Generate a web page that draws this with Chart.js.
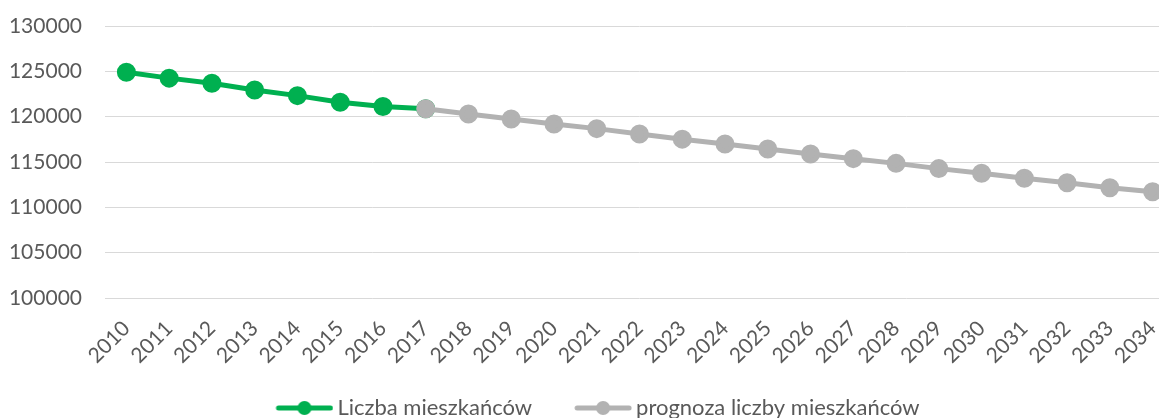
<!DOCTYPE html>
<html>
<head>
<meta charset="utf-8">
<script src="https://cdn.jsdelivr.net/npm/chart.js@4/dist/chart.umd.min.js"></script>
<style>
  html, body { margin: 0; padding: 0; background: #fff; }
  #wrap { width: 1159px; height: 418px; overflow: hidden; position: relative; }
  canvas { position: absolute; left: 0; top: 0; }
</style>
</head>
<body>
<div id="wrap"><canvas id="chart" width="1174" height="429"></canvas></div>
<script>
// dane
const lata = ['2010','2011','2012','2013','2014','2015','2016','2017','2018','2019','2020','2021',
              '2022','2023','2024','2025','2026','2027','2028','2029','2030','2031','2032','2033','2034'];
const liczbaMieszkancow = [124900, 124250, 123680, 122950, 122320, 121600, 121120, 120880];
const prognoza = [120880, 120290, 119740, 119190, 118680, 118090, 117520, 116990, 116440,
                  115890, 115370, 114850, 114270, 113760, 113210, 112720, 112170, 111720];
const osY = { min: 100000, max: 130000, krok: 5000 };

const zielony = '#00B050';
const szary = '#B2B2B2';
const tekst = '#595959';

// wypelnienie brakujacych lat null-ami
const seria1 = lata.map((r, i) => i < liczbaMieszkancow.length ? liczbaMieszkancow[i] : null);
const startPrognozy = lata.length - prognoza.length;
const seria2 = lata.map((r, i) => i >= startPrognozy ? prognoza[i - startPrognozy] : null);

// znacznik legendy: linia z kropka
function znacznik(kolor) {
    const c = document.createElement('canvas');
    c.width = 76;
    c.height = 16;
    const g = c.getContext('2d');
    g.strokeStyle = kolor;
    g.lineWidth = 5;
    g.lineCap = 'round';
    g.beginPath();
    g.moveTo(21, 8);
    g.lineTo(73, 8);
    g.stroke();
    g.fillStyle = kolor;
    g.beginPath();
    g.arc(47, 8, 7, 0, Math.PI * 2);
    g.fill();
    return c;
}

const ctx = document.getElementById('chart').getContext('2d');
new Chart(ctx, {
    type: 'line',
    data: {
        labels: lata,
        datasets: [{
            label: 'Liczba mieszkańców',
            data: seria1,
            borderColor: zielony,
            backgroundColor: zielony,
            pointBackgroundColor: zielony,
            pointBorderColor: zielony,
            borderWidth: 5,
            pointRadius: 7,
            pointHoverRadius: 7,
            tension: 0,
            order: 2
        }, {
            label: 'prognoza liczby mieszkańców',
            data: seria2,
            borderColor: szary,
            backgroundColor: szary,
            pointBackgroundColor: szary,
            pointBorderColor: szary,
            borderWidth: 5,
            pointRadius: 7,
            pointHoverRadius: 7,
            tension: 0,
            order: 1
        }]
    },
    options: {
        responsive: false,
        animation: false,
        devicePixelRatio: 1,
        layout: {
            autoPadding: false,
            padding: { left: 10, right: 0, top: 26, bottom: 0 }
        },
        plugins: {
            title: { display: false },
            tooltip: { enabled: false },
            legend: {
                position: 'bottom',
                labels: {
                    usePointStyle: true,
                    pointStyleWidth: 62,
                    boxWidth: 62,
                    padding: 31,
                    color: tekst,
                    font: { family: 'Lato', size: 22 },
                    generateLabels: function(chart) {
                        return chart.data.datasets.map((ds, i) => ({
                            text: ds.label,
                            fillStyle: ds.borderColor,
                            strokeStyle: ds.borderColor,
                            lineWidth: 0,
                            pointStyle: znacznik(ds.borderColor),
                            hidden: false,
                            datasetIndex: i,
                            fontColor: tekst
                        }));
                    }
                }
            }
        },
        scales: {
            x: {
                offset: true,
                grid: { display: false, offset: true },
                border: { display: false },
                ticks: {
                    autoSkip: false,
                    maxRotation: 45,
                    minRotation: 45,
                    padding: 10,
                    labelOffset: 0,
                    color: tekst,
                    font: { family: 'Lato', size: 21 }
                },
                afterFit: function(s) {
                    s.paddingLeft = 0;
                    s.paddingRight = 0;
                    s.height = 68;
                }
            },
            y: {
                min: osY.min,
                max: osY.max,
                grid: { color: '#D9D9D9', lineWidth: 1, drawTicks: false },
                border: { display: false },
                ticks: {
                    stepSize: osY.krok,
                    padding: 23,
                    color: tekst,
                    font: { family: 'Lato', size: 21 },
                    callback: function(v) { return String(v); }
                },
                afterFit: function(s) {
                    s.width = 95;
                    s.paddingTop = 0;
                    s.paddingBottom = 0;
                }
            }
        }
    }
});
</script>
</body>
</html>
